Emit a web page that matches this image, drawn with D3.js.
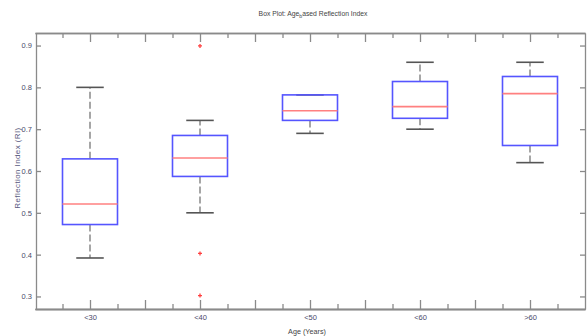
<!DOCTYPE html>
<html>
<head>
<meta charset="utf-8">
<script src="https://cdn.jsdelivr.net/npm/d3@7"></script>
<style>
  body { margin: 0; background: #fff; }
  svg { display: block; font-family: "Liberation Sans Narrow", "Arial Narrow", "Liberation Sans", sans-serif; }
  .axis path, .axis line { stroke: #8a8a8a; stroke-width: 1.3; }
  .axis text { fill: #4a4a6a; font-size: 7.5px; }
</style>
</head>
<body>
<div id="chart"></div>
<script>
// box plot stats
const categories = ['<30', '<40', '<50', '<60', '>60'];
const whiskerLow  = [0.392, 0.500, 0.690, 0.700, 0.620];
const q1          = [0.472, 0.587, 0.721, 0.726, 0.661];
const median      = [0.521, 0.631, 0.744, 0.754, 0.785];
const q3          = [0.629, 0.685, 0.782, 0.814, 0.826];
const whiskerHigh = [0.800, 0.721, 0.782, 0.860, 0.860];
const outliers    = [[], [0.899, 0.403, 0.302], [], [], []];
const yTicks = [0.3, 0.4, 0.5, 0.6, 0.7, 0.8, 0.9];

const width = 587, height = 336;
const plotLeft = 35, plotRight = 585, plotTop = 33, plotBottom = 309;

const svg = d3.select('#chart').append('svg')
  .attr('width', width)
  .attr('height', height);

const x = d3.scaleLinear().domain([0.5, 5.5]).range([plotLeft, plotRight]);
const y = d3.scaleLinear().domain([0.27, 0.93]).range([plotBottom, plotTop]);
const step = x(2) - x(1);

const data = categories.map((c, i) => ({
  cat: c, pos: i + 1,
  lo: whiskerLow[i], q1: q1[i], med: median[i], q3: q3[i], hi: whiskerHigh[i],
  out: outliers[i]
}));

// axes (ticks point inward like matlab)
const minor = d3.range(0.75, 5.5, 0.25);
const major = d3.range(1, 6, 1);
const halfs = d3.range(1.5, 5.5, 1);
const quarters = minor.filter(v => v % 0.5 !== 0);

function fmtCat(d) { return categories[d - 1]; }

svg.append('g').attr('class', 'axis')
  .attr('transform', `translate(0,${plotBottom})`)
  .call(d3.axisBottom(x).tickValues(quarters).tickSizeInner(-5).tickSizeOuter(0).tickFormat(''));
svg.append('g').attr('class', 'axis')
  .attr('transform', `translate(0,${plotBottom})`)
  .call(d3.axisBottom(x).tickValues(halfs).tickSizeInner(-9).tickSizeOuter(0).tickFormat(''));
svg.append('g').attr('class', 'axis x')
  .attr('transform', `translate(0,${plotBottom})`)
  .call(d3.axisBottom(x).tickValues(major).tickSizeInner(-9).tickSizeOuter(0).tickPadding(6).tickFormat(fmtCat));

svg.append('g').attr('class', 'axis')
  .attr('transform', `translate(0,${plotTop})`)
  .call(d3.axisTop(x).tickValues(quarters).tickSizeInner(-5).tickSizeOuter(0).tickFormat(''));
svg.append('g').attr('class', 'axis')
  .attr('transform', `translate(0,${plotTop})`)
  .call(d3.axisTop(x).tickValues(minor.filter(v => v % 0.5 === 0)).tickSizeInner(-9).tickSizeOuter(0).tickFormat(''));

svg.append('g').attr('class', 'axis y')
  .attr('transform', `translate(${plotLeft + 1},0)`)
  .call(d3.axisLeft(y).tickValues(yTicks).tickSizeInner(-5).tickSizeOuter(0).tickPadding(4).tickFormat(d3.format('.1f')));
svg.append('g').attr('class', 'axis')
  .attr('transform', `translate(${plotRight},0)`)
  .call(d3.axisRight(y).tickValues(yTicks).tickSizeInner(-5).tickSizeOuter(0).tickFormat(''));

svg.selectAll('.x text').attr('fill', '#444');

// boxes
const g = svg.append('g');
const boxW = step * 0.5, capW = step * 0.25;

const groups = g.selectAll('.box').data(data).enter().append('g').attr('class', 'box');

groups.append('line') // upper whisker
  .attr('x1', d => x(d.pos)).attr('x2', d => x(d.pos))
  .attr('y1', d => y(d.q3)).attr('y2', d => y(d.hi))
  .attr('stroke', '#777').attr('stroke-width', 1.3).attr('stroke-dasharray', '7,3');
groups.append('line') // lower whisker
  .attr('x1', d => x(d.pos)).attr('x2', d => x(d.pos))
  .attr('y1', d => y(d.q1)).attr('y2', d => y(d.lo))
  .attr('stroke', '#777').attr('stroke-width', 1.3).attr('stroke-dasharray', '7,3');
groups.append('line')
  .attr('x1', d => x(d.pos) - capW / 2).attr('x2', d => x(d.pos) + capW / 2)
  .attr('y1', d => y(d.hi)).attr('y2', d => y(d.hi))
  .attr('stroke', '#555').attr('stroke-width', 1.6);
groups.append('line')
  .attr('x1', d => x(d.pos) - capW / 2).attr('x2', d => x(d.pos) + capW / 2)
  .attr('y1', d => y(d.lo)).attr('y2', d => y(d.lo))
  .attr('stroke', '#555').attr('stroke-width', 1.6);

groups.append('rect')
  .attr('x', d => x(d.pos) - boxW / 2)
  .attr('y', d => y(d.q3))
  .attr('width', boxW)
  .attr('height', d => y(d.q1) - y(d.q3))
  .attr('fill', 'none').attr('stroke', '#5555ff').attr('stroke-width', 1.6);

groups.append('line')
  .attr('x1', d => x(d.pos) - boxW / 2).attr('x2', d => x(d.pos) + boxW / 2)
  .attr('y1', d => y(d.med)).attr('y2', d => y(d.med))
  .attr('stroke', '#ff8080').attr('stroke-width', 1.6);

// outliers as red plus signs
groups.each(function(d) {
  d3.select(this).selectAll('.out').data(d.out).enter().append('path')
    .attr('class', 'out')
    .attr('d', v => `M${x(d.pos) - 2},${y(v)}h4M${x(d.pos)},${y(v) - 2}v4`)
    .attr('stroke', '#ff4040').attr('stroke-width', 1.3);
});

// titles (squeezed a bit, the original font is a narrow one)
const title = svg.append('text')
  .attr('transform', 'translate(313,16) scale(0.85,1)')
  .attr('text-anchor', 'middle')
  .attr('font-size', 8).attr('fill', '#444');
title.append('tspan').text('Box Plot: Age');
title.append('tspan').attr('font-size', 6).attr('dy', 2).text('b');
title.append('tspan').attr('dy', -2).text('ased Reflection Index');

svg.append('text')
  .attr('transform', 'translate(307,334) scale(0.9,1)')
  .attr('text-anchor', 'middle')
  .attr('font-size', 8).attr('fill', '#444')
  .text('Age (Years)');

svg.append('text')
  .attr('transform', 'translate(20,168) rotate(-90)')
  .attr('text-anchor', 'middle')
  .attr('font-size', 8).attr('fill', '#5a5a80')
  .attr('letter-spacing', 0.4)
  .text('Reflection Index (RI)');
</script>
</body>
</html>
